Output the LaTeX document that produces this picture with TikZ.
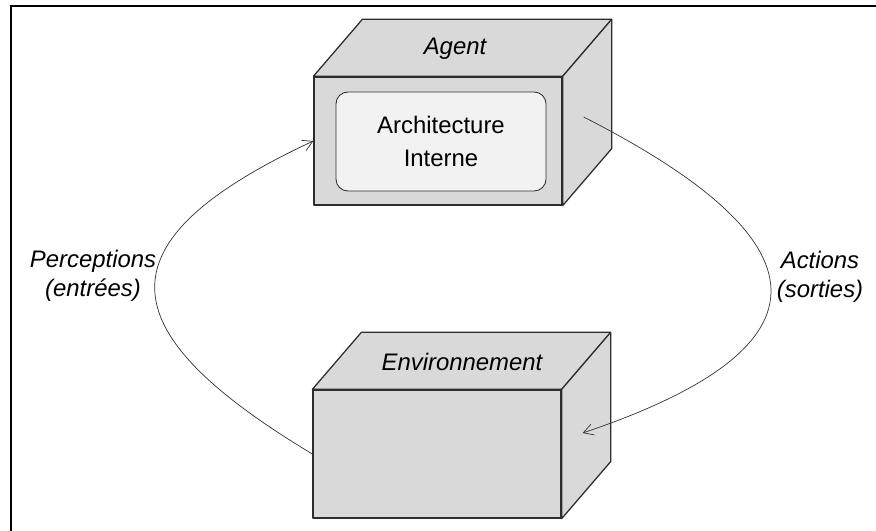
\documentclass[tikz,border=0pt]{standalone}
\usepackage{fontspec}
\setmainfont{Liberation Sans}
\usetikzlibrary{calc,arrows.meta}
\definecolor{boxgrey}{RGB}{217,217,217}
\definecolor{innergrey}{RGB}{242,242,242}
\definecolor{edgegrey}{RGB}{45,45,45}

\begin{document}
\begin{tikzpicture}[x=0.025cm, y=0.025cm,
  face/.style={fill=boxgrey, draw=edgegrey, line width=0.9pt, line join=round},
  front/.style={face, rectangle, minimum width=6.2cm, minimum height=3.2cm, inner sep=0pt},
  inner/.style={rectangle, rounded corners=0.3cm, fill=innergrey, draw=edgegrey, line width=0.6pt,
    minimum width=5.25cm, minimum height=2.475cm, align=center, font=\fontsize{17}{23}\selectfont},
  lbl/.style={font=\fontsize{17}{21}\selectfont\itshape, align=center},
  flow/.style={draw=black!80, line width=0.5pt, -{Straight Barb[length=7pt, width=8pt]}}]
  \useasboundingbox (0,0) rectangle (876,531);
  \draw[line width=2pt] (11,0) -- (11,525) -- (880,525);
  \node[front] (agent) at (438,390) {};
  \draw[face] (agent.north west) -- ++(49,57) -- ($(agent.north east)+(49,57)$) -- (agent.north east) -- cycle;
  \draw[face] (agent.north east) -- ++(49,57) -- ($(agent.south east)+(49,57)$) -- (agent.south east) -- cycle;
  \node[inner] (archi) at (441,389.5) {Architecture\\Interne};
  \node[lbl] (agentlbl) at (455,482) {Agent};
  \node[front] (env) at (437,77) {};
  \draw[face] (env.north west) -- ++(49,57) -- ($(env.north east)+(49,57)$) -- (env.north east) -- cycle;
  \draw[face] (env.north east) -- ++(49,57) -- ($(env.south east)+(49,57)$) -- (env.south east) -- cycle;
  \node[lbl] (envlbl) at (462,169) {Environnement};
  \node[lbl] (percep) at (93,255) {Perceptions\\(entrées)};
  \node[lbl] (actions) at (820,254) {Actions\\(sorties)};
  \coordinate (aout) at ($(agent.east)+(21,24)$);
  \coordinate (ein) at ($(env.east)+(21,21)$);
  \draw[flow] (env.west) to[out=149, in=205, looseness=1.95] (agent.west);
  \draw[flow] (aout) to[out=-27, in=18.6, looseness=2.2] (ein);
\end{tikzpicture}
\end{document}
